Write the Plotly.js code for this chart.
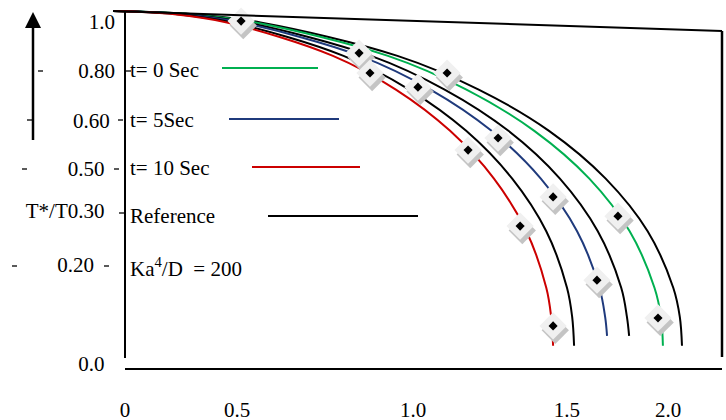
<!DOCTYPE html>
<html>
<head>
<meta charset="utf-8">
<script src="https://cdn.plot.ly/plotly-3.0.1.min.js"></script>
<style>html,body{margin:0;padding:0;background:#fff;}#chart{width:726px;height:420px;}</style>
</head>
<body>
<div id="chart"></div>
<script>
// ---- data (chart units) ----
const redX    = [-0.044,0.181,0.374,0.763,0.994,1.193,1.354,1.473,1.546,1.564,1.571];
const redY    = [1.020,1.011,0.987,0.890,0.792,0.672,0.533,0.380,0.216,0.131,0.047];
const ref1X   = [-0.044,0.192,0.394,0.802,1.043,1.252,1.421,1.546,1.622,1.641,1.648];
const ref1Y   = [1.020,1.011,0.987,0.890,0.792,0.672,0.533,0.380,0.216,0.131,0.047];
const blueX   = [-0.044,0.208,0.425,0.862,1.121,1.345,1.526,1.659,1.741,1.762,1.769];
const blueY   = [1.020,1.011,0.987,0.890,0.792,0.672,0.533,0.380,0.216,0.131,0.076];
const ref2X   = [-0.044,0.219,0.446,0.903,1.173,1.407,1.596,1.735,1.821,1.842,1.850];
const ref2Y   = [1.020,1.011,0.987,0.890,0.792,0.672,0.533,0.380,0.216,0.131,0.076];
const greenX  = [-0.044,0.237,0.478,0.965,1.253,1.502,1.704,1.852,1.943,1.967,1.974];
const greenY  = [1.020,1.011,0.987,0.890,0.792,0.672,0.533,0.380,0.216,0.131,0.047];
const ref3X   = [-0.044,0.247,0.497,1.000,1.298,1.556,1.764,1.918,2.012,2.036,2.044];
const ref3Y   = [1.020,1.011,0.987,0.890,0.792,0.672,0.533,0.380,0.216,0.131,0.047];
const markerX = [0.426,0.859,1.182,1.809,1.956,1.075,1.369,1.571,1.732,0.899,1.259,1.450,1.571];
const markerY = [0.991,0.898,0.840,0.424,0.128,0.799,0.651,0.480,0.238,0.840,0.616,0.395,0.105];
const xTickVals = [0,0.411,1.057,1.622,1.993];
const xTickText = ['0','0.5','1.0','1.5','2.0'];
const yTickVals = [0.990,0.846,0.703,0.561,0.439,0.282,-0.006];
const yTickText = ['1.0','0.80','0.60\u00a0','0.50\u00a0\u00a0','T*/T0.30\u00a0\u00a0','0.20\u00a0\u00a0\u00a0\u00a0','0.0\u00a0\u00a0'];
const legendLabels = ['t= 0 Sec','t= 5Sec','t= 10 Sec','Reference','Ka<sup>4</sup>/D\u00a0\u00a0= 200'];

// ---- pixel -> axis helpers for decorations ----
const X = p => (p - 125) / 272.5;
const Y = p => (362 - p) / 344;
const FONT = {family: 'Liberation Serif, Times New Roman, serif', size: 21, color: '#000'};

const line = (x, y, color) => ({type:'scatter', mode:'lines', x, y, hoverinfo:'skip',
  line:{color, width:2, shape:'spline', smoothing:1}});

const traces = [
  line(ref3X, ref3Y, '#000'),
  line(greenX, greenY, '#00b050'),
  line(ref2X, ref2Y, '#000'),
  line(blueX, blueY, '#1f3a7c'),
  line(ref1X, ref1Y, '#000'),
  line(redX, redY, '#cc0000'),
  {type:'scatter', mode:'markers', x: markerX.map(v=>v+0.008), y: markerY.map(v=>v-0.013), cliponaxis:false,
   marker:{symbol:'diamond', size:21, color:'#c4c4c4', line:{width:0}}},
  {type:'scatter', mode:'markers', x: markerX, y: markerY, cliponaxis:false,
   marker:{symbol:'diamond', size:21, color:'#f0f0f0', line:{width:0}}},
  {type:'scatter', mode:'markers', x: markerX, y: markerY, cliponaxis:false,
   marker:{symbol:'diamond', size:7, color:'#000', line:{width:0}}}
];

const seg = (x0,y0,x1,y1,color,width) => ({type:'line', xref:'x', yref:'y',
  x0:X(x0), y0:Y(y0), x1:X(x1), y1:Y(y1), line:{color, width}});

const shapes = [
  seg(125,11,125,358,'#000',2),
  seg(125,369,722,369,'#000',2),
  seg(722,31,722,357,'#000',2.5),
  seg(113,11,722,31,'#000',2),
  seg(33,27,33,140,'#000',2.5),
  {type:'path', xref:'x', yref:'y', fillcolor:'#000', line:{width:0},
   path:`M ${X(25)},${Y(28)} L ${X(33)},${Y(12)} L ${X(41)},${Y(28)} Z`},
  // legend lines
  seg(222,68,318,68,'#00b050',2),
  seg(229,119,339,119,'#1f3a7c',2),
  seg(252,167,360,167,'#cc0000',2),
  seg(268,216,418,216,'#000',2),
  // stray dashes
  seg(38,71,43,71,'#000',1.3),
  seg(27,120,33,120,'#000',1.3),
  seg(22,169,27,169,'#000',1.3),
  seg(12,266,17,266,'#000',1.3),
  seg(126,71,131,71,'#000',1.3),
  seg(118,120,123,120,'#000',1.3),
  seg(114,169,119,169,'#000',1.3),
  seg(119,213,124,213,'#000',1.3),
  seg(104,266,109,266,'#000',1.3)
];

const legendY = [70,120,168,216,267];
const annotations = legendLabels.map((t,i) => ({text:t, x:X(128), y:Y(legendY[i]), xref:'x', yref:'y',
  xanchor:'left', yanchor:'middle', showarrow:false, font:FONT}));

const layout = {
  width:726, height:420, margin:{l:10, r:2, t:4, b:46},
  paper_bgcolor:'#fff', plot_bgcolor:'#fff', showlegend:false,
  xaxis:{range:[-0.42202,2.19817], showgrid:false, zeroline:false, showline:false, ticks:'',
    tickvals:xTickVals, ticktext:xTickText, tickfont:FONT, ticklabelstandoff:21, fixedrange:true},
  yaxis:{range:[-0.03488,1.04070], showgrid:false, zeroline:false, showline:false, ticks:'',
    anchor:'free', position:(115-10)/714,
    tickvals:yTickVals, ticktext:yTickText, tickfont:FONT, fixedrange:true},
  shapes, annotations
};

Plotly.newPlot('chart', traces, layout, {staticPlot:true, displayModeBar:false});
</script>
</body>
</html>
